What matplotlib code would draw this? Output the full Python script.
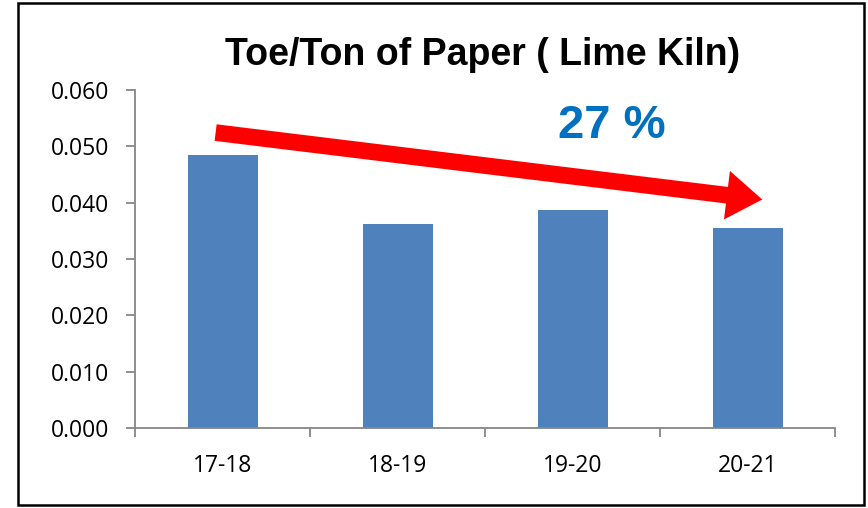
import matplotlib
matplotlib.use("Agg")
import matplotlib.pyplot as plt
from matplotlib.patches import Rectangle

categories = ["17-18", "18-19", "19-20", "20-21"]
values = [0.0485, 0.0362, 0.0387, 0.0355]
yticks = [0.0, 0.01, 0.02, 0.03, 0.04, 0.05, 0.06]
ytick_labels = ["0.000", "0.010", "0.020", "0.030", "0.040", "0.050", "0.060"]
title = "Toe/Ton of Paper ( Lime Kiln)"
reduction_label = "27 %"

fig = plt.figure(figsize=(8.68, 5.08), dpi=100)
ax = fig.add_axes([135/868, 1-428/508, 700/868, 338/508])

x = list(range(len(categories)))
ax.bar(x, values, width=0.4, color="#4F81BD", zorder=2)
ax.set_xlim(-0.5, len(categories) - 0.5)
ax.set_ylim(0, 0.06)

gray = "#868686"
for s in ["top", "right"]:
    ax.spines[s].set_visible(False)
for s in ["left", "bottom"]:
    ax.spines[s].set_color(gray)
    ax.spines[s].set_linewidth(1.3)

ax.set_yticks(yticks)
ax.set_yticklabels(ytick_labels, family="Open Sans", fontsize=16.5)
ax.set_xticks(x)
ax.set_xticklabels(categories, family="Open Sans", fontsize=16.5)
ax.tick_params(axis="y", direction="out", length=6.5, width=1.3, color=gray, pad=12)
ax.tick_params(axis="x", length=0, pad=19)
ax.set_xticks([i - 0.5 for i in range(len(categories) + 1)], minor=True)
ax.tick_params(axis="x", which="minor", direction="out", length=6.5, width=1.3, color=gray)

fig.text(483/868, 1-55/508, title, ha="center", va="center",
         family="Liberation Sans", fontweight="bold", fontsize=27)

ax.annotate("", xy=(3.1, 0.0405), xytext=(-0.055, 0.0525),
            arrowprops=dict(arrowstyle="simple,head_length=1.6,head_width=2.2,tail_width=0.75",
                            color="#FF0000", lw=0, mutation_scale=16),
            zorder=3)

ax.text(612/868, 1-126/508, reduction_label, transform=fig.transFigure,
        ha="center", va="center", family="Liberation Sans", fontweight="heavy",
        fontsize=34, color="#0070C0")

fig.patches.append(Rectangle((18/868, 3/508), 846/868, 502/508, transform=fig.transFigure,
                             fill=False, edgecolor="black", linewidth=1.8))

fig.savefig("out.png", dpi=100)
